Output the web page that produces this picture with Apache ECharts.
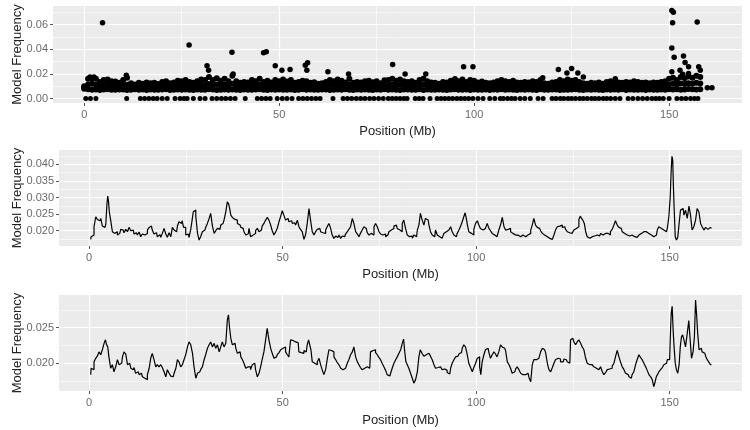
<!DOCTYPE html>
<html>
<head>
<meta charset="utf-8">
<script src="https://cdn.jsdelivr.net/npm/echarts@6/dist/echarts.min.js"></script>
<style>
    html, body { margin: 0; padding: 0; background: #ffffff; }
    #freqChart { width: 750px; height: 430px; }
</style>
</head>
<body>
<div id="freqChart"></div>
<script>
// ==========================================================================
// Data (position in Mb, model frequency)
// ==========================================================================

// Top panel: dense band of points, one column per Mb (index = Mb)
var bandHigh = [
    0.0100, 0.0160, 0.0165, 0.0160, 0.0135, 0.0150, 0.0155, 0.0140, 0.0138, 0.0128,
    0.0150, 0.0170, 0.0125, 0.0115, 0.0128, 0.0120, 0.0130, 0.0125, 0.0128, 0.0118,
    0.0135, 0.0140, 0.0125, 0.0130, 0.0145, 0.0140, 0.0150, 0.0135, 0.0128, 0.0140,
    0.0155, 0.0150, 0.0175, 0.0150, 0.0165, 0.0145, 0.0160, 0.0140, 0.0185, 0.0140,
    0.0128, 0.0135, 0.0130, 0.0150, 0.0140, 0.0160, 0.0135, 0.0145, 0.0130, 0.0150,
    0.0140, 0.0155, 0.0138, 0.0150, 0.0128, 0.0135, 0.0145, 0.0140, 0.0128, 0.0132,
    0.0120, 0.0125, 0.0135, 0.0150, 0.0140, 0.0155, 0.0145, 0.0130, 0.0160, 0.0128,
    0.0135, 0.0130, 0.0140, 0.0145, 0.0132, 0.0140, 0.0125, 0.0148, 0.0150, 0.0160,
    0.0145, 0.0155, 0.0140, 0.0135, 0.0140, 0.0128, 0.0150, 0.0160, 0.0140, 0.0130,
    0.0128, 0.0120, 0.0135, 0.0130, 0.0145, 0.0150, 0.0140, 0.0155, 0.0135, 0.0150,
    0.0145, 0.0130, 0.0138, 0.0128, 0.0125, 0.0130, 0.0140, 0.0150, 0.0140, 0.0135,
    0.0145, 0.0130, 0.0128, 0.0135, 0.0130, 0.0140, 0.0135, 0.0150, 0.0125, 0.0120,
    0.0130, 0.0135, 0.0150, 0.0140, 0.0155, 0.0145, 0.0150, 0.0135, 0.0125, 0.0120,
    0.0128, 0.0125, 0.0130, 0.0120, 0.0135, 0.0140, 0.0135, 0.0130, 0.0128, 0.0135,
    0.0130, 0.0140, 0.0135, 0.0128, 0.0130, 0.0125, 0.0130, 0.0128, 0.0135, 0.0140,
    0.0160, 0.0170, 0.0150, 0.0175, 0.0165, 0.0180, 0.0170, 0.0185, 0.0175
];
var bandMid = [
    0.0090, 0.0115, 0.0120, 0.0112, 0.0105, 0.0110, 0.0115, 0.0108, 0.0104, 0.0100,
    0.0108, 0.0112, 0.0100, 0.0098, 0.0102, 0.0100, 0.0105, 0.0101, 0.0103, 0.0099,
    0.0104, 0.0107, 0.0101, 0.0103, 0.0108, 0.0105, 0.0110, 0.0104, 0.0100, 0.0106,
    0.0112, 0.0110, 0.0118, 0.0110, 0.0115, 0.0108, 0.0113, 0.0106, 0.0120, 0.0105,
    0.0101, 0.0104, 0.0102, 0.0110, 0.0106, 0.0112, 0.0104, 0.0108, 0.0101, 0.0110,
    0.0106, 0.0112, 0.0104, 0.0110, 0.0100, 0.0103, 0.0108, 0.0106, 0.0100, 0.0102,
    0.0098, 0.0100, 0.0104, 0.0110, 0.0106, 0.0112, 0.0108, 0.0102, 0.0115, 0.0100,
    0.0104, 0.0102, 0.0106, 0.0108, 0.0103, 0.0106, 0.0099, 0.0109, 0.0110, 0.0115,
    0.0108, 0.0112, 0.0106, 0.0104, 0.0106, 0.0100, 0.0110, 0.0115, 0.0106, 0.0102,
    0.0100, 0.0098, 0.0104, 0.0102, 0.0108, 0.0110, 0.0106, 0.0112, 0.0104, 0.0110,
    0.0108, 0.0102, 0.0105, 0.0100, 0.0099, 0.0102, 0.0106, 0.0110, 0.0106, 0.0104,
    0.0108, 0.0102, 0.0100, 0.0104, 0.0102, 0.0106, 0.0104, 0.0110, 0.0099, 0.0097,
    0.0102, 0.0104, 0.0110, 0.0106, 0.0112, 0.0108, 0.0110, 0.0104, 0.0099, 0.0097,
    0.0100, 0.0099, 0.0102, 0.0097, 0.0104, 0.0106, 0.0104, 0.0102, 0.0100, 0.0104,
    0.0102, 0.0106, 0.0104, 0.0100, 0.0102, 0.0099, 0.0102, 0.0100, 0.0104, 0.0106,
    0.0115, 0.0120, 0.0112, 0.0122, 0.0118, 0.0125, 0.0120, 0.0128, 0.0122
];
var bandLow = [
    0.0080, 0.0075, 0.0072, 0.0074, 0.0070, 0.0073, 0.0076, 0.0072, 0.0071, 0.0074,
    0.0073, 0.0070, 0.0072, 0.0075, 0.0071, 0.0073, 0.0070, 0.0074, 0.0072, 0.0071,
    0.0073, 0.0075, 0.0070, 0.0072, 0.0074, 0.0071, 0.0073, 0.0072, 0.0070, 0.0074,
    0.0072, 0.0071, 0.0075, 0.0073, 0.0070, 0.0072, 0.0074, 0.0071, 0.0073, 0.0072,
    0.0070, 0.0074, 0.0072, 0.0071, 0.0073, 0.0075, 0.0072, 0.0070, 0.0073, 0.0072,
    0.0074, 0.0071, 0.0072, 0.0073, 0.0070, 0.0072, 0.0075, 0.0071, 0.0073, 0.0072,
    0.0071, 0.0073, 0.0074, 0.0070, 0.0072, 0.0073, 0.0071, 0.0075, 0.0072, 0.0070,
    0.0073, 0.0072, 0.0074, 0.0071, 0.0070, 0.0073, 0.0072, 0.0075, 0.0071, 0.0073,
    0.0072, 0.0070, 0.0074, 0.0073, 0.0071, 0.0072, 0.0075, 0.0070, 0.0073, 0.0072,
    0.0071, 0.0074, 0.0072, 0.0070, 0.0073, 0.0075, 0.0071, 0.0072, 0.0074, 0.0070,
    0.0073, 0.0072, 0.0071, 0.0074, 0.0070, 0.0073, 0.0072, 0.0075, 0.0071, 0.0073,
    0.0072, 0.0070, 0.0074, 0.0071, 0.0073, 0.0072, 0.0070, 0.0075, 0.0072, 0.0071,
    0.0073, 0.0074, 0.0070, 0.0072, 0.0071, 0.0073, 0.0075, 0.0072, 0.0070, 0.0074,
    0.0071, 0.0073, 0.0072, 0.0070, 0.0074, 0.0071, 0.0073, 0.0072, 0.0075, 0.0070,
    0.0073, 0.0072, 0.0071, 0.0074, 0.0070, 0.0073, 0.0072, 0.0071, 0.0074, 0.0072,
    0.0075, 0.0073, 0.0076, 0.0072, 0.0074, 0.0078, 0.0075, 0.0073, 0.0076
];

// Top panel: positions (Mb) of the points sitting at frequency 0
var zeroPos = [
    0.4, 1.6, 3.0, 10.9, 14.4, 15.5, 16.6, 17.7, 18.7, 20.0, 21.3,
    23.3, 24.6, 25.6, 26.4, 28.0, 29.7, 31.0, 32.8, 34.0, 35.2, 36.3, 37.5, 38.7,
    41.3, 44.4, 45.5, 46.6, 47.7, 49.5, 50.8, 52.0, 53.3,
    55.0, 56.1, 57.2, 58.3, 59.4, 60.5, 63.8,
    66.4, 67.5, 68.6, 69.8, 70.9, 72.0, 73.2, 74.3, 75.5, 76.7,
    78.0, 79.0, 80.0, 81.0, 82.0, 82.8, 84.9, 85.9, 86.9, 88.7,
    90.5, 91.5, 92.5, 93.5, 94.5, 95.6, 96.6, 97.6, 98.6, 99.7,
    101.0, 102.3, 104.0, 105.3, 106.7, 107.5, 108.6, 109.6, 110.5,
    111.8, 113.0, 114.4, 116.4, 117.7,
    120.0, 121.0, 122.1, 123.0, 124.1, 125.0, 126.0, 127.1, 128.0, 129.0,
    130.1, 131.0, 132.0, 133.1, 134.0, 135.0, 136.2, 137.4,
    139.5, 140.7, 142.0, 143.2, 144.4, 145.6, 146.6, 147.5, 148.5, 150.0,
    152.0, 153.2, 154.3, 155.5, 156.5, 157.4
];

// Top panel: points standing out of the band
var outlierPos = [
    1.5, 2.5, 4.7, 10.8, 26.9, 31.5, 31.9, 37.9, 38.2,
    46.0, 46.7, 49.0, 50.7, 52.8, 56.7, 57.1, 57.3, 62.5, 67.8,
    79.1, 82.3, 87.6, 95.1, 97.3, 99.7,
    117.6, 121.6, 123.8, 125.0, 126.6, 128.0, 136.2,
    150.7, 151.1, 150.9, 150.7, 151.3, 150.7,
    152.8, 153.5, 153.7, 154.1, 155.0, 155.0, 157.2, 157.6, 158.0,
    159.8, 161.0
];
var outlierFreq = [
    0.0175, 0.0175, 0.0615, 0.0190, 0.0436, 0.0266, 0.0230, 0.0376, 0.0200,
    0.0373, 0.0380, 0.0266, 0.0230, 0.0236, 0.0270, 0.0230, 0.0290, 0.0217, 0.0200,
    0.0277, 0.0200, 0.0200, 0.0160, 0.0258, 0.0258,
    0.0170, 0.0236, 0.0208, 0.0244, 0.0208, 0.0175, 0.0162,
    0.0716, 0.0702, 0.0615, 0.0410, 0.0335, 0.0217,
    0.0230, 0.0198, 0.0346, 0.0294, 0.0258, 0.0203, 0.0623, 0.0258, 0.0230,
    0.0088, 0.0088
];

// Middle panel trace [Mb, frequency]
var traceMid = [
    [0.4,0.0174],[0.6,0.0182],[1.0,0.0187],[1.5,0.0212],[1.9,0.0242],[2.3,0.0234],[2.8,0.0230],[3.2,0.0237],[3.6,0.0214],[4.1,0.0210],
    [4.5,0.0220],[4.7,0.0282],[4.9,0.0304],[5.1,0.0287],[5.3,0.0257],[5.8,0.0232],[6.2,0.0197],[6.6,0.0192],[7.1,0.0197],[7.5,0.0187],
    [7.9,0.0192],[8.4,0.0204],[8.8,0.0202],[9.2,0.0194],[9.7,0.0204],[10.1,0.0197],[10.5,0.0210],[11.0,0.0200],[11.4,0.0202],[11.8,0.0190],
    [12.2,0.0194],[12.7,0.0187],[13.1,0.0196],[13.5,0.0182],[14.0,0.0190],[14.4,0.0187],[14.8,0.0192],[15.3,0.0202],[15.7,0.0210],[16.1,0.0214],
    [16.5,0.0202],[17.0,0.0190],[17.4,0.0194],[17.8,0.0182],[18.3,0.0188],[18.7,0.0180],[19.1,0.0192],[19.6,0.0207],[20.0,0.0190],[20.4,0.0180],
    [20.9,0.0194],[21.3,0.0182],[21.7,0.0210],[22.2,0.0202],[22.6,0.0197],[23.0,0.0214],[23.4,0.0227],[23.9,0.0222],[24.1,0.0230],[24.7,0.0210],
    [25.2,0.0187],[25.6,0.0190],[26.0,0.0180],[26.5,0.0204],[26.7,0.0232],[27.1,0.0257],[27.3,0.0262],[27.8,0.0244],[28.2,0.0192],[28.6,0.0172],
    [29.0,0.0182],[29.5,0.0197],[29.9,0.0202],[30.3,0.0210],[30.8,0.0222],[31.2,0.0237],[31.6,0.0252],[32.1,0.0214],[32.5,0.0192],[32.9,0.0200],
    [33.4,0.0207],[33.8,0.0204],[34.2,0.0217],[34.6,0.0222],[35.1,0.0232],[35.5,0.0257],[35.9,0.0287],[36.2,0.0280],[36.4,0.0267],[36.8,0.0247],
    [37.2,0.0240],[37.7,0.0234],[38.1,0.0232],[38.5,0.0222],[39.0,0.0217],[39.4,0.0210],[39.8,0.0207],[40.2,0.0197],[40.7,0.0187],[41.1,0.0190],
    [41.5,0.0207],[41.9,0.0182],[42.4,0.0187],[42.8,0.0192],[43.2,0.0200],[43.7,0.0207],[44.1,0.0197],[44.5,0.0202],[44.9,0.0214],[45.4,0.0222],
    [45.8,0.0232],[46.2,0.0240],[46.7,0.0232],[47.1,0.0217],[47.5,0.0200],[48.0,0.0187],[48.4,0.0197],[48.8,0.0207],[49.3,0.0227],[49.7,0.0244],
    [50.1,0.0260],[50.5,0.0247],[51.0,0.0232],[51.4,0.0237],[51.8,0.0227],[52.3,0.0230],[52.7,0.0222],[53.1,0.0224],[53.6,0.0217],[54.0,0.0232],
    [54.4,0.0212],[54.8,0.0204],[55.3,0.0197],[55.7,0.0174],[56.1,0.0187],[56.6,0.0222],[57.0,0.0267],[57.4,0.0232],[57.9,0.0197],[58.3,0.0187],
    [58.7,0.0197],[59.2,0.0204],[59.6,0.0207],[60.0,0.0197],[60.4,0.0194],[60.9,0.0192],[61.3,0.0202],[61.7,0.0212],[62.2,0.0222],[62.6,0.0207],
    [63.0,0.0187],[63.5,0.0177],[63.9,0.0184],[64.3,0.0180],[64.8,0.0187],[65.2,0.0177],[65.6,0.0184],[66.0,0.0182],[66.5,0.0190],[66.9,0.0197],
    [67.3,0.0204],[67.8,0.0212],[68.2,0.0237],[68.6,0.0222],[69.1,0.0197],[69.5,0.0190],[69.9,0.0182],[70.3,0.0192],[70.8,0.0202],[71.2,0.0212],
    [71.6,0.0207],[72.1,0.0194],[72.5,0.0187],[72.9,0.0192],[73.4,0.0187],[73.8,0.0212],[74.2,0.0222],[74.7,0.0212],[75.1,0.0197],[75.5,0.0190],
    [75.9,0.0187],[76.4,0.0190],[76.8,0.0182],[77.2,0.0187],[77.7,0.0197],[78.1,0.0202],[78.5,0.0207],[79.0,0.0214],[79.4,0.0217],[79.8,0.0207],
    [80.3,0.0202],[80.7,0.0197],[81.1,0.0222],[81.5,0.0232],[82.0,0.0207],[82.4,0.0187],[82.8,0.0182],[83.3,0.0184],[83.7,0.0177],[84.1,0.0187],
    [84.6,0.0182],[85.0,0.0202],[85.4,0.0217],[85.8,0.0252],[86.3,0.0232],[86.7,0.0217],[87.1,0.0237],[87.6,0.0232],[88.0,0.0217],[88.4,0.0197],
    [88.9,0.0187],[89.3,0.0182],[89.7,0.0202],[90.2,0.0187],[90.6,0.0182],[91.0,0.0177],[91.4,0.0182],[91.9,0.0192],[92.3,0.0197],[92.7,0.0202],
    [93.2,0.0207],[93.6,0.0212],[94.0,0.0197],[94.5,0.0187],[94.9,0.0182],[95.3,0.0192],[95.8,0.0202],[96.2,0.0214],[96.6,0.0227],[97.0,0.0242],
    [97.3,0.0254],[97.6,0.0237],[97.9,0.0217],[98.3,0.0197],[98.8,0.0192],[99.2,0.0187],[99.6,0.0204],[100.1,0.0222],[100.5,0.0230],[100.9,0.0217],
    [101.3,0.0207],[101.8,0.0202],[102.2,0.0207],[102.6,0.0212],[103.1,0.0222],[103.5,0.0207],[103.9,0.0200],[104.4,0.0192],[104.8,0.0187],[105.2,0.0182],
    [105.6,0.0184],[106.1,0.0202],[106.5,0.0217],[107.0,0.0240],[107.4,0.0212],[107.8,0.0202],[108.3,0.0204],[108.7,0.0207],[109.1,0.0197],[109.5,0.0192],
    [110.0,0.0187],[110.4,0.0182],[110.8,0.0187],[111.3,0.0182],[111.7,0.0184],[112.1,0.0187],[112.6,0.0182],[113.0,0.0182],[113.4,0.0187],[113.9,0.0192],
    [114.3,0.0202],[114.7,0.0217],[115.1,0.0237],[115.6,0.0217],[116.0,0.0210],[116.4,0.0207],[116.9,0.0200],[117.3,0.0192],[117.7,0.0187],[118.2,0.0182],
    [118.6,0.0180],[119.0,0.0177],[119.5,0.0174],[119.9,0.0172],[120.3,0.0187],[120.7,0.0202],[121.2,0.0212],[121.6,0.0214],[122.0,0.0217],[122.5,0.0210],
    [122.9,0.0212],[123.3,0.0204],[123.8,0.0197],[124.2,0.0194],[124.6,0.0192],[125.0,0.0197],[125.5,0.0202],[125.9,0.0207],[126.3,0.0212],[126.8,0.0234],
    [127.0,0.0244],[127.5,0.0237],[127.8,0.0230],[128.1,0.0222],[128.5,0.0197],[128.9,0.0182],[129.4,0.0177],[129.8,0.0182],[130.2,0.0180],[130.6,0.0184],
    [131.1,0.0187],[131.5,0.0182],[131.9,0.0184],[132.4,0.0192],[132.8,0.0187],[133.2,0.0192],[133.7,0.0197],[134.1,0.0192],[134.5,0.0187],[134.9,0.0197],
    [135.4,0.0204],[135.8,0.0217],[136.2,0.0230],[136.7,0.0217],[137.1,0.0210],[137.5,0.0207],[138.0,0.0197],[138.4,0.0192],[138.8,0.0187],[139.3,0.0182],
    [139.7,0.0184],[140.1,0.0187],[140.5,0.0182],[141.0,0.0182],[141.4,0.0180],[141.8,0.0177],[142.3,0.0187],[142.7,0.0192],[143.1,0.0197],[143.6,0.0202],
    [144.0,0.0197],[144.4,0.0192],[144.9,0.0190],[145.3,0.0187],[145.7,0.0182],[146.1,0.0177],[146.6,0.0187],[147.0,0.0202],[147.4,0.0212],[147.9,0.0207],
    [148.3,0.0202],[148.7,0.0207],[149.2,0.0197],[149.6,0.0207],[150.0,0.0242],[150.3,0.0302],[150.5,0.0382],[150.7,0.0424],[150.9,0.0412],[151.0,0.0342],
    [151.3,0.0272],[151.6,0.0182],[151.9,0.0172],[152.3,0.0180],[152.6,0.0222],[153.0,0.0262],[153.5,0.0267],[153.9,0.0247],[154.3,0.0262],[154.8,0.0237],
    [155.2,0.0274],[155.6,0.0247],[156.0,0.0202],[156.5,0.0212],[156.9,0.0232],[157.3,0.0267],[157.8,0.0257],[158.2,0.0222],[158.6,0.0212],[159.1,0.0202],
    [159.5,0.0210],[159.9,0.0204],[160.3,0.0210],[160.8,0.0207]
];

// Bottom panel trace [Mb, frequency]
var traceLow = [
    [0.4,0.0184],[0.6,0.0193],[1.0,0.0191],[1.5,0.0202],[1.9,0.0207],[2.3,0.0210],[2.8,0.0216],[3.2,0.0212],[3.6,0.0219],[4.1,0.0228],
    [4.3,0.0233],[4.7,0.0226],[4.9,0.0223],[5.3,0.0209],[5.8,0.0193],[6.2,0.0198],[6.6,0.0188],[7.1,0.0195],[7.5,0.0205],[7.9,0.0198],
    [8.4,0.0200],[8.8,0.0209],[9.2,0.0216],[9.7,0.0213],[10.1,0.0198],[10.5,0.0200],[11.0,0.0193],[11.4,0.0191],[11.8,0.0194],[12.2,0.0186],
    [12.7,0.0188],[13.1,0.0184],[13.5,0.0186],[14.0,0.0181],[14.4,0.0179],[14.8,0.0177],[15.3,0.0184],[15.7,0.0193],[16.1,0.0207],[16.5,0.0214],
    [17.0,0.0205],[17.4,0.0195],[17.8,0.0198],[18.3,0.0195],[18.7,0.0198],[19.1,0.0194],[19.6,0.0188],[20.0,0.0181],[20.4,0.0191],[20.9,0.0186],
    [21.3,0.0182],[21.7,0.0181],[22.2,0.0186],[22.6,0.0193],[23.0,0.0205],[23.4,0.0202],[23.9,0.0195],[24.3,0.0198],[24.7,0.0205],[25.2,0.0212],
    [25.6,0.0223],[26.0,0.0230],[26.5,0.0226],[26.9,0.0214],[27.3,0.0195],[27.8,0.0179],[28.2,0.0186],[28.6,0.0188],[29.0,0.0191],[29.5,0.0195],
    [29.9,0.0205],[30.3,0.0212],[30.8,0.0221],[31.2,0.0226],[31.6,0.0230],[32.1,0.0223],[32.5,0.0228],[32.9,0.0221],[33.4,0.0226],[33.8,0.0216],
    [34.2,0.0223],[34.6,0.0230],[35.1,0.0223],[35.5,0.0228],[35.9,0.0261],[36.1,0.0268],[36.4,0.0251],[36.8,0.0235],[37.2,0.0226],[37.7,0.0228],
    [38.1,0.0221],[38.5,0.0214],[39.0,0.0216],[39.4,0.0209],[39.8,0.0205],[40.2,0.0200],[40.7,0.0193],[41.1,0.0195],[41.5,0.0195],[41.9,0.0191],
    [42.4,0.0198],[42.8,0.0200],[43.2,0.0191],[43.7,0.0181],[44.1,0.0186],[44.5,0.0195],[44.9,0.0205],[45.4,0.0216],[45.8,0.0233],[46.2,0.0249],
    [46.7,0.0233],[47.1,0.0221],[47.5,0.0214],[48.0,0.0207],[48.4,0.0209],[48.8,0.0212],[49.3,0.0215],[49.7,0.0219],[50.1,0.0221],[50.5,0.0223],
    [51.0,0.0216],[51.4,0.0212],[51.8,0.0209],[52.3,0.0233],[52.7,0.0232],[53.1,0.0230],[53.6,0.0232],[54.0,0.0229],[54.4,0.0216],[54.8,0.0215],
    [55.3,0.0214],[55.7,0.0218],[56.1,0.0216],[56.6,0.0226],[56.8,0.0233],[57.2,0.0226],[57.4,0.0219],[57.9,0.0202],[58.3,0.0200],[58.7,0.0198],
    [59.2,0.0202],[59.6,0.0207],[60.0,0.0198],[60.4,0.0191],[60.9,0.0184],[61.3,0.0191],[61.7,0.0205],[62.2,0.0219],[62.6,0.0218],[63.0,0.0216],
    [63.5,0.0209],[63.9,0.0205],[64.3,0.0201],[64.8,0.0198],[65.2,0.0193],[65.6,0.0191],[66.0,0.0193],[66.5,0.0195],[66.9,0.0200],[67.3,0.0205],
    [67.8,0.0212],[68.2,0.0216],[68.6,0.0223],[69.1,0.0209],[69.5,0.0202],[69.9,0.0198],[70.3,0.0194],[70.8,0.0191],[71.2,0.0193],[71.6,0.0195],
    [72.1,0.0194],[72.5,0.0193],[72.9,0.0216],[73.4,0.0218],[73.8,0.0219],[74.2,0.0215],[74.7,0.0212],[75.1,0.0208],[75.5,0.0205],[75.9,0.0200],
    [76.4,0.0195],[76.8,0.0190],[77.2,0.0184],[77.7,0.0182],[78.1,0.0186],[78.5,0.0193],[79.0,0.0200],[79.4,0.0205],[79.8,0.0209],[80.3,0.0214],
    [80.7,0.0219],[81.1,0.0228],[81.4,0.0234],[81.7,0.0216],[82.0,0.0202],[82.4,0.0198],[82.8,0.0193],[83.3,0.0186],[83.7,0.0179],[84.1,0.0172],
    [84.6,0.0177],[85.0,0.0188],[85.4,0.0209],[85.7,0.0219],[86.3,0.0214],[86.7,0.0210],[87.1,0.0212],[87.6,0.0214],[88.0,0.0216],[88.4,0.0210],
    [88.9,0.0205],[89.3,0.0198],[89.7,0.0193],[90.2,0.0194],[90.6,0.0195],[91.0,0.0193],[91.4,0.0191],[91.9,0.0192],[92.3,0.0190],[92.7,0.0187],
    [93.2,0.0185],[93.6,0.0193],[94.0,0.0200],[94.5,0.0205],[94.9,0.0209],[95.3,0.0210],[95.8,0.0213],[96.2,0.0215],[96.6,0.0221],[97.0,0.0226],
    [97.5,0.0223],[97.9,0.0212],[98.3,0.0200],[98.8,0.0194],[99.2,0.0188],[99.6,0.0194],[100.1,0.0200],[100.5,0.0207],[100.7,0.0209],[101.1,0.0195],
    [101.3,0.0184],[101.8,0.0202],[102.2,0.0212],[102.6,0.0219],[103.1,0.0221],[103.5,0.0215],[103.9,0.0207],[104.4,0.0212],[104.8,0.0216],[105.2,0.0213],
    [105.6,0.0209],[106.1,0.0216],[106.5,0.0226],[107.0,0.0223],[107.4,0.0221],[107.8,0.0218],[108.3,0.0202],[108.7,0.0198],[109.1,0.0193],[109.5,0.0186],
    [110.0,0.0188],[110.4,0.0192],[110.8,0.0195],[111.3,0.0191],[111.7,0.0186],[112.1,0.0184],[112.6,0.0184],[113.0,0.0185],[113.4,0.0186],[113.9,0.0180],
    [114.3,0.0174],[114.7,0.0198],[115.1,0.0205],[115.6,0.0205],[116.0,0.0207],[116.4,0.0209],[116.9,0.0216],[117.3,0.0221],[117.7,0.0219],[118.2,0.0215],
    [118.6,0.0200],[119.0,0.0191],[119.5,0.0188],[119.9,0.0194],[120.3,0.0200],[120.7,0.0205],[121.2,0.0207],[121.6,0.0206],[122.0,0.0202],[122.5,0.0202],
    [122.9,0.0206],[123.3,0.0205],[123.8,0.0202],[124.2,0.0200],[124.6,0.0233],[125.0,0.0235],[125.5,0.0230],[125.9,0.0226],[126.3,0.0230],[126.8,0.0233],
    [127.2,0.0228],[127.6,0.0223],[128.1,0.0219],[128.5,0.0207],[128.9,0.0200],[129.4,0.0198],[129.8,0.0198],[130.2,0.0196],[130.6,0.0195],[131.1,0.0193],
    [131.5,0.0191],[131.9,0.0193],[132.4,0.0195],[132.8,0.0188],[133.2,0.0184],[133.7,0.0187],[134.1,0.0191],[134.5,0.0192],[134.9,0.0193],[135.4,0.0196],
    [135.8,0.0200],[136.2,0.0209],[136.7,0.0218],[137.1,0.0209],[137.5,0.0202],[138.0,0.0195],[138.4,0.0191],[138.8,0.0186],[139.3,0.0184],[139.7,0.0181],
    [140.1,0.0179],[140.5,0.0184],[141.0,0.0188],[141.4,0.0198],[141.8,0.0205],[142.3,0.0212],[142.7,0.0208],[143.1,0.0205],[143.6,0.0200],[144.0,0.0195],
    [144.4,0.0190],[144.9,0.0184],[145.3,0.0181],[145.7,0.0177],[146.1,0.0167],[146.4,0.0174],[146.7,0.0181],[147.0,0.0184],[147.4,0.0188],[147.9,0.0191],
    [148.3,0.0194],[148.7,0.0198],[149.2,0.0200],[149.6,0.0205],[150.0,0.0205],[150.3,0.0233],[150.5,0.0270],[150.8,0.0280],[151.0,0.0247],[151.3,0.0223],
    [151.6,0.0200],[151.9,0.0191],[152.3,0.0186],[152.6,0.0198],[152.9,0.0223],[153.2,0.0237],[153.5,0.0240],[153.9,0.0233],[154.3,0.0223],[154.8,0.0242],
    [155.1,0.0260],[155.4,0.0237],[155.9,0.0207],[156.2,0.0216],[156.6,0.0237],[156.8,0.0289],[157.1,0.0270],[157.4,0.0242],[157.8,0.0219],[158.2,0.0221],
    [158.6,0.0216],[159.1,0.0214],[159.5,0.0210],[159.9,0.0205],[160.3,0.0202],[160.8,0.0198]
];

// Tick labels
var xTicks = [0, 50, 100, 150];
var yTicksTop = [0, 0.02, 0.04, 0.06];
var yTicksMid = [0.020, 0.025, 0.030, 0.035, 0.040];
var yTicksLow = [0.020, 0.025];

// ==========================================================================
// Chart
// ==========================================================================

var freqChart = echarts.init(document.getElementById('freqChart'));
var fontFamily = '"Liberation Sans", Arial, sans-serif';

// Band columns, zero row and outliers of the top panel
var bandPoints = [];
bandHigh.forEach(function(v, i) {
    bandPoints.push([i, v], [i, bandMid[i]], [i, bandLow[i]]);
});
var zeroPoints = zeroPos.map(function(p) { return [p, 0]; });
var outlierPoints = outlierPos.map(function(p, i) { return [p, outlierFreq[i]]; });

function makeXAxis(gridIndex, min, nameGap) {
    return {
        type: 'value',
        gridIndex: gridIndex,
        min: min,
        max: 168.7,
        splitNumber: 4,
        name: 'Position (Mb)',
        nameLocation: 'middle',
        nameGap: nameGap,
        nameMoveOverlap: false,
        nameTextStyle: { color: '#222', fontSize: 13, fontFamily: fontFamily },
        axisLine: { show: false, onZero: false },
        axisTick: { show: true, length: 3, customValues: xTicks, lineStyle: { color: '#555', width: 1 } },
        axisLabel: { customValues: xTicks, margin: 6, color: '#6a6a6a', fontSize: 11, fontFamily: fontFamily },
        splitLine: { show: true, lineStyle: { color: '#ffffff', width: 1.2 } },
        minorTick: { show: false, splitNumber: 2 },
        minorSplitLine: { show: true, lineStyle: { color: '#ffffff', width: 0.6 } }
    };
}

function makeYAxis(gridIndex, min, max, splitNumber, ticks, digits, nameGap) {
    return {
        type: 'value',
        gridIndex: gridIndex,
        min: min,
        max: max,
        splitNumber: splitNumber,
        name: 'Model Frequency',
        nameLocation: 'middle',
        nameRotate: 90,
        nameGap: nameGap,
        nameMoveOverlap: false,
        nameTextStyle: { color: '#222', fontSize: 13, fontFamily: fontFamily },
        axisLine: { show: false, onZero: false },
        axisTick: { show: true, length: 3, customValues: ticks, lineStyle: { color: '#555', width: 1 } },
        axisLabel: {
            customValues: ticks,
            margin: 5,
            color: '#6a6a6a',
            fontSize: 11,
            fontFamily: fontFamily,
            formatter: function(value) {
                return value.toFixed(digits);
            }
        },
        splitLine: { show: true, lineStyle: { color: '#ffffff', width: 1.2 } },
        minorTick: { show: false, splitNumber: 2 },
        minorSplitLine: { show: true, lineStyle: { color: '#ffffff', width: 0.6 } }
    };
}

var panelGrid = { show: true, backgroundColor: '#EBEBEB', borderWidth: 0 };

freqChart.setOption({
    animation: false,
    grid: [
        Object.assign({ left: 53, top: 6, width: 689, height: 97 }, panelGrid),
        Object.assign({ left: 59, top: 150, width: 683, height: 96 }, panelGrid),
        Object.assign({ left: 59, top: 295, width: 683, height: 96 }, panelGrid)
    ],
    xAxis: [
        makeXAxis(0, -8, 22),
        makeXAxis(1, -7.8, 22),
        makeXAxis(2, -7.8, 23)
    ],
    yAxis: [
        makeYAxis(0, -0.0036, 0.0752, 4, yTicksTop, 2, 29),
        makeYAxis(1, 0.0154, 0.0443, 5, yTicksMid, 3, 35),
        makeYAxis(2, 0.0161, 0.0296, 3, yTicksLow, 3, 35)
    ],
    series: [
        {
            type: 'scatter',
            xAxisIndex: 0,
            yAxisIndex: 0,
            data: bandPoints,
            symbolSize: 6,
            silent: true,
            itemStyle: { color: '#000000', opacity: 1 }
        },
        {
            type: 'scatter',
            xAxisIndex: 0,
            yAxisIndex: 0,
            data: zeroPoints,
            symbolSize: 5,
            silent: true,
            itemStyle: { color: '#000000', opacity: 1 }
        },
        {
            type: 'scatter',
            xAxisIndex: 0,
            yAxisIndex: 0,
            data: outlierPoints,
            symbolSize: 5.5,
            silent: true,
            itemStyle: { color: '#000000', opacity: 1 }
        },
        {
            type: 'line',
            xAxisIndex: 1,
            yAxisIndex: 1,
            data: traceMid,
            showSymbol: false,
            step: 'middle',
            silent: true,
            lineStyle: { color: '#000000', width: 1.2 }
        },
        {
            type: 'line',
            xAxisIndex: 2,
            yAxisIndex: 2,
            data: traceLow,
            showSymbol: false,
            step: 'middle',
            silent: true,
            lineStyle: { color: '#000000', width: 1.2 }
        }
    ]
});
</script>
</body>
</html>
